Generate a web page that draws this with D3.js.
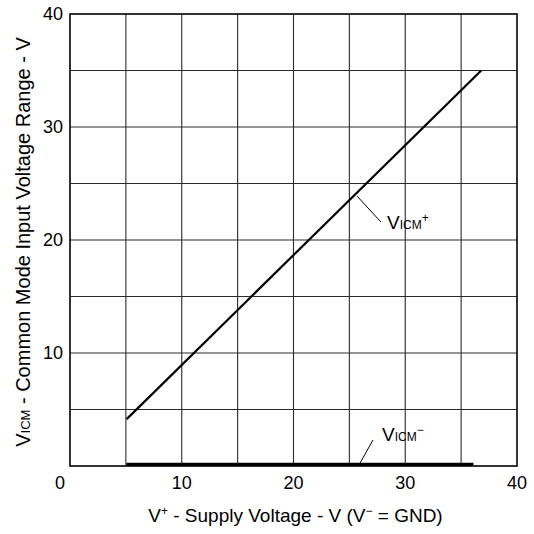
<!DOCTYPE html>
<html>
<head>
<meta charset="utf-8">
<script src="https://cdn.jsdelivr.net/npm/d3@7"></script>
<style>
  body { margin: 0; background: #fff; }
  svg { font-family: "Liberation Sans", Arial, sans-serif; }
</style>
</head>
<body>
<div id="chart"></div>
<script>
// data
const xTicks = [0, 10, 20, 30, 40];
const yTicks = [10, 20, 30, 40];
const gridSteps = [5, 10, 15, 20, 25, 30, 35];
const vicmPlusX = [5.07, 36.8];
const vicmPlusY = [4.15, 35];
const vicmMinusX = [5.05, 36.1];
const vicmMinusY = [0.15, 0.15];

const width = 534;
const height = 534;
const margin = { top: 14, right: 17, bottom: 68, left: 70 };

const svg = d3.select('#chart')
  .append('svg')
  .attr('width', width)
  .attr('height', height);

const x = d3.scaleLinear().domain([0, 40]).range([margin.left, width - margin.right]);
const y = d3.scaleLinear().domain([0, 40]).range([height - margin.bottom, margin.top]);

// grid
svg.append('g')
  .selectAll('line')
  .data(gridSteps)
  .enter()
  .append('line')
  .attr('x1', (d) => x(d))
  .attr('x2', (d) => x(d))
  .attr('y1', y(0))
  .attr('y2', y(40))
  .style('stroke', '#2a2a2a')
  .style('stroke-width', 1.1);

svg.append('g')
  .selectAll('line')
  .data(gridSteps)
  .enter()
  .append('line')
  .attr('x1', x(0))
  .attr('x2', x(40))
  .attr('y1', (d) => y(d))
  .attr('y2', (d) => y(d))
  .style('stroke', '#2a2a2a')
  .style('stroke-width', 1.1);

// frame
svg.append('rect')
  .attr('x', x(0))
  .attr('y', y(40))
  .attr('width', x(40) - x(0))
  .attr('height', y(0) - y(40))
  .style('fill', 'none')
  .style('stroke', '#000')
  .style('stroke-width', 1.6);

// curves
const line = d3.line().x((d) => x(d[0])).y((d) => y(d[1]));

svg.append('path')
  .attr('d', line(d3.zip(vicmPlusX, vicmPlusY)))
  .style('fill', 'none')
  .style('stroke', '#000')
  .style('stroke-width', 2.2);

svg.append('path')
  .attr('d', line(d3.zip(vicmMinusX, vicmMinusY)))
  .style('fill', 'none')
  .style('stroke', '#000')
  .style('stroke-width', 3.2);

// tick labels
svg.append('g')
  .selectAll('text')
  .data(xTicks)
  .enter()
  .append('text')
  .attr('x', (d) => (d === 0 ? x(d) - 10 : x(d)))
  .attr('y', y(0) + 23)
  .attr('text-anchor', 'middle')
  .style('font-size', '18px')
  .text((d) => d);

svg.append('g')
  .selectAll('text')
  .data(yTicks)
  .enter()
  .append('text')
  .attr('x', x(0) - 7)
  .attr('y', (d) => y(d) + 6)
  .attr('text-anchor', 'end')
  .style('font-size', '18px')
  .text((d) => d);

// curve labels with leader lines
function subLabel(g, px, py, sup) {
  const t = g.append('text')
    .attr('x', px)
    .attr('y', py)
    .style('font-size', '19px');
  t.append('tspan').text('V');
  t.append('tspan').style('font-size', '12px').text('ICM');
  t.append('tspan').style('font-size', '12px').attr('dy', -7).text(sup);
}

svg.append('line')
  .attr('x1', x(25.68)).attr('y1', y(23.89))
  .attr('x2', x(27.83)).attr('y2', y(21.59))
  .style('stroke', '#000').style('stroke-width', 1);
subLabel(svg, x(28.37), y(20.97), '+');

svg.append('line')
  .attr('x1', x(25.86)).attr('y1', y(0.09))
  .attr('x2', x(27.11)).attr('y2', y(2.3))
  .style('stroke', '#000').style('stroke-width', 1);
subLabel(svg, x(27.92), y(2.21), '\u2212');

// axis titles
const xt = svg.append('text')
  .attr('x', (x(0) + x(40)) / 2 + 2)
  .attr('y', height - 12)
  .attr('text-anchor', 'middle')
  .style('font-size', '19px');
xt.append('tspan').text('V');
xt.append('tspan').attr('dy', -7).style('font-size', '12px').text('+');
xt.append('tspan').attr('dy', 7).text(' - Supply Voltage - V (V');
xt.append('tspan').attr('dy', -7).style('font-size', '12px').text('\u2212');
xt.append('tspan').attr('dy', 7).text(' = GND)');

const yt = svg.append('text')
  .attr('transform', `translate(30, ${(y(0) + y(40)) / 2 + 2}) rotate(-90)`)
  .attr('text-anchor', 'middle')
  .style('font-size', '20px');
yt.append('tspan').text('V');
yt.append('tspan').style('font-size', '13px').text('ICM');
yt.append('tspan').text(' - Common Mode Input Voltage Range - V');
</script>
</body>
</html>
